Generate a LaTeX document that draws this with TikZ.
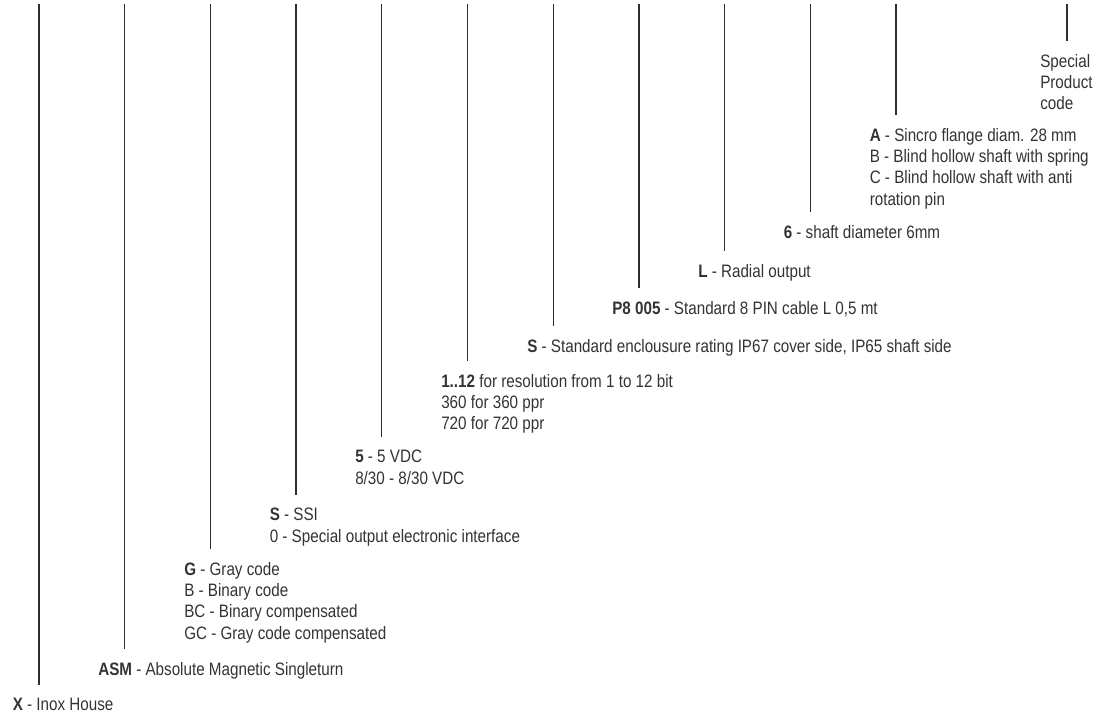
\documentclass[tikz,border=0pt]{standalone}
\usepackage{fontspec}
\setmainfont{Liberation Sans}[FakeStretch=0.845]
\definecolor{txt}{HTML}{333333}
\definecolor{ln}{HTML}{2E2E2E}
\begin{document}
\begin{tikzpicture}[x=0.75pt,y=-0.75pt,
  lab/.style={anchor=north west, inner sep=0pt, align=left,
    font=\fontsize{13.5}{16}\selectfont, text=txt},
  tick/.style={draw=ln, line width=1pt}]
\useasboundingbox (0,0) rectangle (1106,716);
% labels
\node[lab] (l1) at (12.5,698) {\textbf{X} - Inox House};
\node[lab] (l2) at (98,662) {\textbf{ASM} - Absolute Magnetic Singleturn};
\node[lab] (l3) at (184,562) {\textbf{G} - Gray code\\B - Binary code\\BC - Binary compensated\\GC - Gray code compensated};
\node[lab] (l4) at (269.5,508) {\textbf{S} - SSI\\0 - Special output electronic interface};
\node[lab] (l5) at (355,450) {\textbf{5} - 5 VDC\\8/30 - 8/30 VDC};
\node[lab] (l6) at (441,374) {\textbf{1..12} for resolution from 1 to 12 bit\\360 for 360 ppr\\720 for 720 ppr};
\node[lab] (l7) at (527,339) {\textbf{S} - Standard enclousure rating IP67 cover side, IP65 shaft side};
\node[lab] (l8) at (612,301) {\textbf{P8 005} - Standard 8 PIN cable L 0,5 mt};
\node[lab] (l9) at (698,264) {\textbf{L} - Radial output};
\node[lab] (l10) at (783.5,225) {\textbf{6} - shaft diameter 6mm};
\node[lab] (l11) at (869.5,128) {\textbf{A} - Sincro flange diam. 28 mm\\B - Blind hollow shaft with spring\\C - Blind hollow shaft with anti\\rotation pin};
\node[lab] (l12) at (1040,54) {Special\\Product\\code};
% top ends of the code lines
\coordinate (t1) at (39,4);
\coordinate (t2) at (124.7,4);
\coordinate (t3) at (210.4,4);
\coordinate (t4) at (296.1,4);
\coordinate (t5) at (381.8,4);
\coordinate (t6) at (467.5,4);
\coordinate (t7) at (553.2,4);
\coordinate (t8) at (638.9,4);
\coordinate (t9) at (724.6,4);
\coordinate (t10) at (810.3,4);
\coordinate (t11) at (896,4);
\coordinate (t12) at (1067,4);
\foreach \i in {1,...,12}{
  \draw[tick] (t\i) -- ([yshift=9.75pt]t\i |- l\i.north);
}
\end{tikzpicture}
\end{document}
